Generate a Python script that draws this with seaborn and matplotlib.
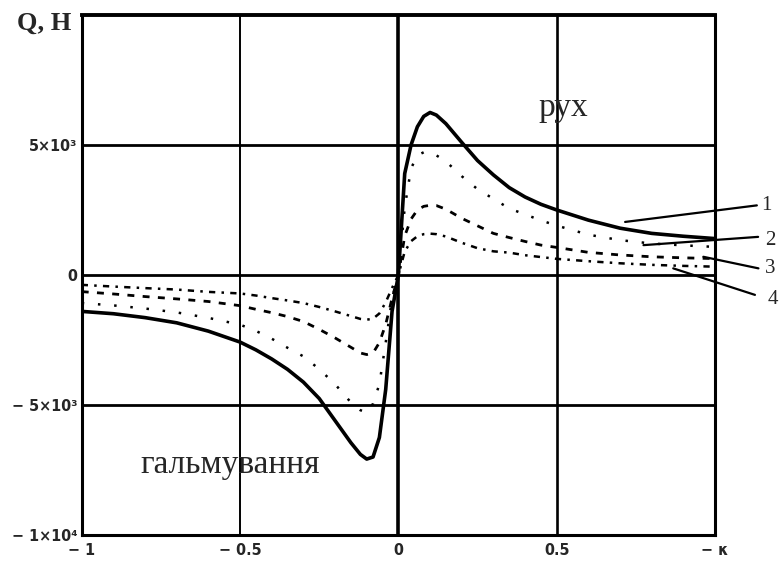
import matplotlib
matplotlib.use("Agg")
import matplotlib.pyplot as plt
import seaborn as sns
import pandas as pd

# slip ratio grid and tangential force curves (N)
kappa = [-1, -0.9, -0.8, -0.7, -0.6, -0.5, -0.45, -0.4, -0.35, -0.3, -0.25, -0.2, -0.15,
         -0.12, -0.1, -0.08, -0.06, -0.04, -0.02, 0, 0.02, 0.04, 0.06, 0.08, 0.1, 0.12,
         0.15, 0.2, 0.25, 0.3, 0.35, 0.4, 0.45, 0.5, 0.6, 0.7, 0.8, 0.9, 1.0]
q1 = [-1400, -1490, -1640, -1840, -2160, -2580, -2880, -3230, -3630, -4120, -4750, -5600, -6450,
      -6900, -7080, -7000, -6250, -4400, -1400, 0, 3900, 5000, 5700, 6100, 6250, 6150,
      5820, 5100, 4400, 3850, 3360, 3000, 2720, 2500, 2110, 1800, 1600, 1490, 1400]
q2 = [-1080, -1170, -1290, -1440, -1650, -1910, -2150, -2450, -2800, -3130, -3620, -4200, -4900,
      -5200, -5290, -4950, -4200, -2600, -900, 0, 2600, 4100, 4600, 4720, 4720, 4600,
      4370, 3800, 3300, 2930, 2560, 2330, 2100, 1900, 1550, 1340, 1210, 1140, 1080]
q3 = [-640, -730, -830, -920, -1020, -1180, -1320, -1450, -1600, -1790, -2090, -2420, -2780,
      -3000, -3060, -3000, -2600, -1900, -900, 0, 1500, 2150, 2500, 2640, 2680, 2670,
      2530, 2180, 1890, 1600, 1440, 1290, 1150, 1060, 870, 770, 700, 660, 630]
q4 = [-380, -445, -505, -560, -650, -710, -790, -890, -980, -1080, -1230, -1400, -1580,
      -1690, -1720, -1680, -1480, -1050, -500, 0, 900, 1300, 1490, 1570, 1590, 1570,
      1480, 1240, 1030, 910, 860, 760, 690, 620, 530, 450, 390, 350, 320]

curve_names = ["1", "2", "3", "4"]
x_ticks = [-1, -0.5, 0, 0.5, 1]
x_tick_labels = ["\u2212 1", "\u2212 0.5", "0", "0.5", "\u2212 \u03ba"]
y_ticks = [-10000, -5000, 0, 5000]
y_tick_labels = ["\u2212 1\u00d710\u2074", "\u2212 5\u00d710\u00b3", "0", "5\u00d710\u00b3"]

# callout lines: (start on curve) -> (end near number)
callout_start = [(0.716, 2040), (0.774, 1148), (0.963, 700), (0.868, 255)]
callout_end = [(1.132, 2677), (1.136, 1466), (1.137, 255), (1.126, -765)]
callout_text = [(1.163, 2678), (1.173, 1339), (1.173, 268), (1.183, -956)]

sns.set_style("white")
plt.rcParams["font.family"] = ["Liberation Serif", "DejaVu Serif"]

fig = plt.figure(figsize=(7.79, 5.65), dpi=100)
ax = fig.add_axes([0.1049, 0.0531, 0.8130, 0.9204])

df = pd.DataFrame({"kappa": kappa * 4,
                   "Q": q1 + q2 + q3 + q4,
                   "curve": sum([[n] * len(kappa) for n in curve_names], [])})

styles = {
    "1": dict(lw=2.6, linestyle="-"),
    "2": dict(lw=1.8, linestyle=(0, (1, 5.5))),
    "3": dict(lw=2.0, linestyle=(0, (2.5, 3))),
    "4": dict(lw=1.8, linestyle=(0, (2.5, 2.5, 1, 2.5))),
}
for name in curve_names:
    sub = df[df["curve"] == name]
    sns.lineplot(data=sub, x="kappa", y="Q", ax=ax, color="black",
                 estimator=None, sort=True, zorder=3, **styles[name])

ax.set_xlim(-1, 1)
ax.set_ylim(-10000, 10000)

# grid
for xv, lw in [(-0.5, 1.4), (0, 2.6), (0.5, 1.9)]:
    ax.axvline(xv, color="black", lw=lw, zorder=1)
for yv in (-5000, 0, 5000):
    ax.axhline(yv, color="black", lw=2.0, zorder=1)

for s in ax.spines.values():
    s.set_color("black")
    s.set_linewidth(2.2)
ax.spines["top"].set_linewidth(2.8)

tick_font = dict(family=["DejaVu Sans"], weight="bold", stretch="condensed", size=11.5)
ax.set_xticks(x_ticks)
ax.set_xticklabels(x_tick_labels, **tick_font)
ax.set_yticks(y_ticks)
ax.set_yticklabels(y_tick_labels, **tick_font)
ax.tick_params(axis="x", length=0, pad=6)
ax.tick_params(axis="y", length=0, pad=3)
ax.set_xlabel("")
ax.set_ylabel("")

# callouts with curve numbers
for (x0, y0), (x1, y1), (xt, yt), name in zip(callout_start, callout_end, callout_text, curve_names):
    ax.plot([x0, x1], [y0, y1], color="black", lw=1.6, clip_on=False, zorder=4)
    ax.text(xt, yt, name, ha="center", va="center", fontsize=15, clip_on=False)

ax.text(0.52, 6430, "рух", ha="center", va="center", fontsize=24)
ax.text(-0.532, -7300, "гальмування", ha="center", va="center", fontsize=24)

fig.text(0.0565, 0.958, "Q, H", ha="center", va="center", fontsize=19, fontweight="bold")

fig.savefig("out.png", dpi=100, facecolor="white")
